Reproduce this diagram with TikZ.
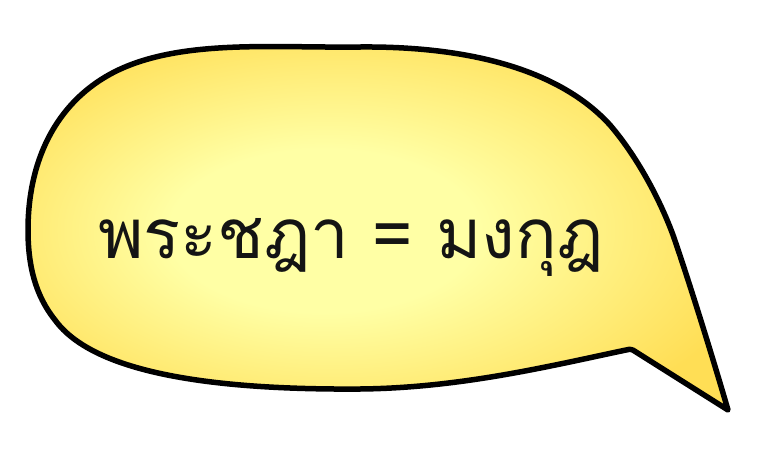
\documentclass[tikz,border=0pt]{standalone}
\usepackage{fontspec}
\newfontfamily\thaifont[Script=Thai]{Loma}
\definecolor{bubLight}{RGB}{255,255,165}
\definecolor{bubDark}{RGB}{255,222,85}
\pgfdeclareradialshading{bubshade}{\pgfpoint{-5bp}{-1bp}}{color(0bp)=(bubLight); color(11bp)=(bubLight); color(30bp)=(bubDark); color(50bp)=(bubDark)}
\tikzset{bubble/.style={draw=black, line width=5.5pt, line join=round, shading=bubshade},
  bubtext/.style={font=\thaifont\fontsize{69}{80}\selectfont, text=black!92}}
\begin{document}
\begin{tikzpicture}[x=1pt,y=-1pt]
\useasboundingbox (0,0) rectangle (764,464);
\path[bubble] (28,230) .. controls (28,150) and (65,90) .. (130,65)
  .. controls (195,40) and (280,48) .. (360,47)
  .. controls (470,46) and (560,70) .. (610,125)
  .. controls (640,160) and (662,205) .. (673,235)
  .. controls (687,275) and (712,355) .. (728,410)
  -- (636,352) .. controls (632,349) and (630,349) .. (626,350)
  .. controls (550,366) and (460,388) .. (360,389)
  .. controls (220,390) and (95,375) .. (55,320)
  .. controls (35,295) and (28,265) .. (28,230) -- cycle;
\node[bubtext, anchor=base] (t) at (351,258) {พระชฎา = มงกุฎ};
\end{tikzpicture}
\end{document}
